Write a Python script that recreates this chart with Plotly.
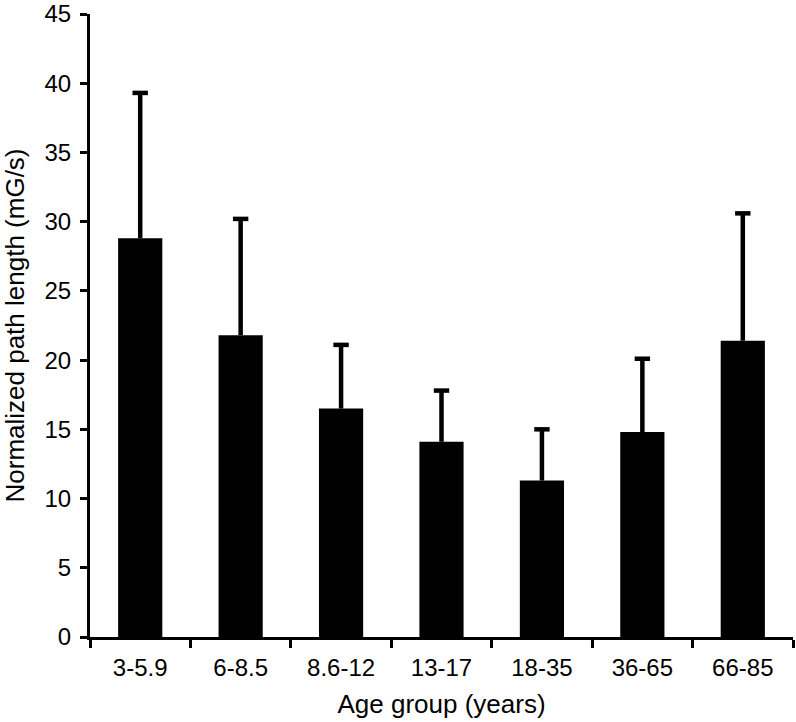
import plotly.graph_objects as go

categories = ["3-5.9", "6-8.5", "8.6-12", "13-17", "18-35", "36-65", "66-85"]
means = [28.8, 21.8, 16.5, 14.1, 11.3, 14.8, 21.4]
upper_err = [10.5, 8.4, 4.6, 3.7, 3.7, 5.3, 9.2]
y_ticks = [0, 5, 10, 15, 20, 25, 30, 35, 40, 45]

cap_y = [m + e for m, e in zip(means, upper_err)]

fig = go.Figure()
fig.add_trace(
    go.Bar(
        x=categories,
        y=means,
        width=0.44,
        marker=dict(color="black", line=dict(width=0)),
        error_y=dict(
            type="data",
            symmetric=False,
            array=upper_err,
            arrayminus=[0] * len(upper_err),
            color="black",
            thickness=4.5,
            width=0,
        ),
        hoverinfo="skip",
    )
)
fig.add_trace(
    go.Scatter(
        x=categories,
        y=cap_y,
        mode="markers",
        marker=dict(symbol="line-ew", size=11, line=dict(width=4.5, color="black")),
        hoverinfo="skip",
    )
)

font = dict(family="Liberation Sans, Arial, sans-serif", color="black", size=24)

fig.update_layout(
    width=796,
    height=722,
    margin=dict(l=90, r=3, t=14, b=85),
    paper_bgcolor="white",
    plot_bgcolor="white",
    font=font,
    showlegend=False,
    xaxis=dict(
        title=dict(text="Age group (years)", font=dict(size=26), standoff=16),
        automargin=False,
        showline=True,
        linecolor="black",
        linewidth=3,
        ticks="outside",
        tickson="boundaries",
        ticklen=8,
        tickwidth=3,
        tickcolor="black",
        showgrid=False,
        tickfont=dict(size=24),
        ticklabelstandoff=7,
    ),
    yaxis=dict(
        title=dict(text="Normalized path length (mG/s)", font=dict(size=26), standoff=16),
        automargin=False,
        range=[0, 45],
        tickvals=y_ticks,
        showline=True,
        linecolor="black",
        linewidth=3,
        ticks="outside",
        ticklen=7,
        tickwidth=3,
        tickcolor="black",
        showgrid=False,
        zeroline=False,
        tickfont=dict(size=24),
        ticklabelstandoff=4,
        ticklabeloverflow="allow",
    ),
)

fig.write_html(
    "out.html",
    config={"displayModeBar": False},
    post_script="document.body.style.margin='0';document.body.style.overflow='hidden';",
)
